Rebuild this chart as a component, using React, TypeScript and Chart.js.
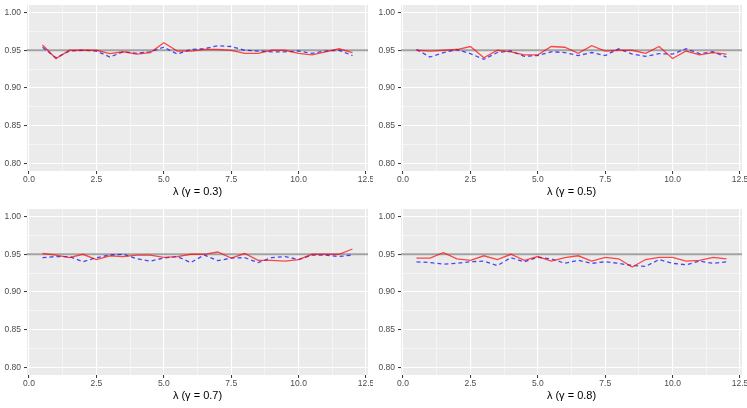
import { useEffect, useRef } from 'react';
import { Chart, registerables } from 'chart.js';

Chart.register(...registerables);

// lambda grid shared by all four panels
const LAMBDA = [0.5, 1, 1.5, 2, 2.5, 3, 3.5, 4, 4.5, 5, 5.5, 6, 6.5, 7, 7.5, 8, 8.5, 9, 9.5, 10, 10.5, 11, 11.5, 12];

const X_MAJOR = [0, 2.5, 5, 7.5, 10, 12.5];
const X_MINOR = [1.25, 3.75, 6.25, 8.75, 11.25];
const Y_MAJOR = [0.8, 0.85, 0.9, 0.95, 1.0];
const Y_MINOR = [0.825, 0.875, 0.925, 0.975];

const NOMINAL = 0.95;

const GAMMAS = ['0.3', '0.5', '0.7', '0.8'];

// red solid series per gamma
const RED_03 = [0.957, 0.939, 0.95, 0.95, 0.95, 0.9455, 0.948, 0.945, 0.947, 0.96, 0.949, 0.949, 0.951, 0.951, 0.95, 0.946, 0.946, 0.95, 0.95, 0.946, 0.944, 0.948, 0.952, 0.947];
const RED_05 = [0.95, 0.949, 0.95, 0.951, 0.955, 0.94, 0.95, 0.948, 0.944, 0.944, 0.955, 0.954, 0.946, 0.956, 0.949, 0.95, 0.95, 0.946, 0.955, 0.939, 0.949, 0.944, 0.947, 0.945];
const RED_07 = [0.951, 0.949, 0.9455, 0.95, 0.943, 0.948, 0.947, 0.949, 0.949, 0.946, 0.947, 0.95, 0.95, 0.953, 0.945, 0.951, 0.942, 0.942, 0.941, 0.943, 0.95, 0.95, 0.95, 0.957];
const RED_08 = [0.945, 0.945, 0.952, 0.944, 0.942, 0.948, 0.943, 0.95, 0.942, 0.947, 0.941, 0.9455, 0.948, 0.941, 0.946, 0.944, 0.933, 0.943, 0.946, 0.946, 0.941, 0.942, 0.946, 0.944];

// blue dashed series per gamma
const BLUE_03 = [0.954, 0.94, 0.949, 0.95, 0.949, 0.941, 0.948, 0.946, 0.948, 0.954, 0.945, 0.951, 0.952, 0.956, 0.955, 0.95, 0.949, 0.948, 0.948, 0.949, 0.946, 0.949, 0.95, 0.943];
const BLUE_05 = [0.951, 0.941, 0.947, 0.951, 0.9455, 0.938, 0.947, 0.949, 0.942, 0.943, 0.948, 0.947, 0.943, 0.947, 0.943, 0.952, 0.945, 0.942, 0.9455, 0.945, 0.952, 0.9455, 0.948, 0.941];
const BLUE_07 = [0.9455, 0.947, 0.947, 0.94, 0.9455, 0.949, 0.95, 0.944, 0.941, 0.945, 0.947, 0.939, 0.949, 0.9415, 0.945, 0.9455, 0.939, 0.9455, 0.947, 0.943, 0.949, 0.949, 0.947, 0.949];
const BLUE_08 = [0.94, 0.939, 0.937, 0.938, 0.94, 0.941, 0.935, 0.9455, 0.94, 0.946, 0.944, 0.938, 0.942, 0.938, 0.94, 0.938, 0.935, 0.934, 0.943, 0.938, 0.936, 0.941, 0.938, 0.94];

const RED = [RED_03, RED_05, RED_07, RED_08];
const BLUE = [BLUE_03, BLUE_05, BLUE_07, BLUE_08];

const CELL_W = 373;
const CELL_H = 204;
const FONT = '"Liberation Sans", Arial, sans-serif';

const isMajor = (list: number[], v: number) => list.some(m => Math.abs(m - v) < 1e-9);

const panelPlugin = {
  id: 'panelBg',
  beforeDraw(chart: any) {
    const { ctx, chartArea } = chart;
    ctx.save();
    ctx.fillStyle = '#EBEBEB';
    ctx.fillRect(chartArea.left, chartArea.top, chartArea.right - chartArea.left, chartArea.bottom - chartArea.top);
    ctx.restore();
  },
  beforeDatasetsDraw(chart: any) {
    const { ctx, chartArea, scales } = chart;
    const y = scales.y.getPixelForValue(NOMINAL);
    ctx.save();
    ctx.strokeStyle = '#A3A3A3';
    ctx.lineWidth = 2;
    ctx.beginPath();
    ctx.moveTo(chartArea.left, y);
    ctx.lineTo(chartArea.right, y);
    ctx.stroke();
    ctx.restore();
  },
};

function Panel({ idx }: { idx: number }) {
  const chartRef = useRef<HTMLCanvasElement>(null);

  useEffect(() => {
    if (!chartRef.current) return;
    const ctx = chartRef.current.getContext('2d');
    if (!ctx) return;

    const chart = new Chart(ctx, {
      type: 'line',
      data: {
        datasets: [
          {
            data: LAMBDA.map((x, i) => ({ x, y: RED[idx][i] })),
            borderColor: 'rgba(255,0,0,0.7)',
            borderWidth: 1.3,
            pointRadius: 0,
            tension: 0,
          },
          {
            data: LAMBDA.map((x, i) => ({ x, y: BLUE[idx][i] })),
            borderColor: 'rgba(0,0,255,0.7)',
            borderWidth: 1.3,
            borderDash: [4, 3],
            pointRadius: 0,
            tension: 0,
          },
        ],
      },
      options: {
        responsive: false,
        animation: false,
        devicePixelRatio: 1,
        layout: { padding: { top: 5, right: 5, bottom: 5, left: 0 } },
        plugins: { legend: { display: false }, tooltip: { enabled: false } },
        scales: {
          x: {
            type: 'linear',
            min: -0.075,
            max: 12.575,
            border: { display: false },
            afterBuildTicks: (scale: any) => {
              scale.ticks = [...X_MAJOR, ...X_MINOR].sort((a, b) => a - b).map(v => ({ value: v }));
            },
            afterFit: (scale: any) => {
              scale.height = 28;
              scale.paddingLeft = 0;
              scale.paddingRight = 0;
            },
            grid: {
              color: '#FFFFFF',
              lineWidth: (c: any) => (isMajor(X_MAJOR, c.tick?.value) ? 1.1 : 0.5),
              tickColor: (c: any) => (isMajor(X_MAJOR, c.tick?.value) ? '#333333' : 'rgba(0,0,0,0)'),
              tickWidth: 1,
              tickLength: 3,
            },
            ticks: {
              autoSkip: false,
              maxRotation: 0,
              padding: 1,
              color: '#4D4D4D',
              font: { family: FONT, size: 8.5 },
              callback: (v: any) => (isMajor(X_MAJOR, Number(v)) ? Number(v).toFixed(1) : ''),
            },
            title: {
              display: true,
              text: `λ (γ = ${GAMMAS[idx]})`,
              color: '#000000',
              font: { family: FONT, size: 11 },
              padding: 0,
            },
          },
          y: {
            type: 'linear',
            min: 0.79,
            max: 1.01,
            border: { display: false },
            afterBuildTicks: (scale: any) => {
              scale.ticks = [...Y_MAJOR, ...Y_MINOR].sort((a, b) => a - b).map(v => ({ value: v }));
            },
            afterFit: (scale: any) => {
              scale.width = 27;
              scale.paddingTop = 0;
              scale.paddingBottom = 0;
            },
            grid: {
              color: '#FFFFFF',
              lineWidth: (c: any) => (isMajor(Y_MAJOR, c.tick?.value) ? 1.1 : 0.5),
              tickColor: (c: any) => (isMajor(Y_MAJOR, c.tick?.value) ? '#333333' : 'rgba(0,0,0,0)'),
              tickWidth: 1,
              tickLength: 3,
            },
            ticks: {
              autoSkip: false,
              padding: 3,
              color: '#4D4D4D',
              font: { family: FONT, size: 8.5 },
              callback: (v: any) => (isMajor(Y_MAJOR, Number(v)) ? Number(v).toFixed(2) : ''),
            },
          },
        },
      },
      plugins: [panelPlugin],
    });

    return () => {
      chart.destroy();
    };
  }, [idx]);

  return <canvas ref={chartRef} width={CELL_W} height={CELL_H} style={{ display: 'block' }}></canvas>;
}

export default function App() {
  return (
    <div style={{ position: 'fixed', left: 0, top: 0, width: 747, height: 408, background: '#FFFFFF', overflow: 'hidden' }}>
      {GAMMAS.map((g, i) => (
        <div
          key={g}
          style={{
            position: 'absolute',
            left: i % 2 === 0 ? 0 : 374,
            top: i < 2 ? 0 : 204,
            width: CELL_W,
            height: CELL_H,
          }}
        >
          <Panel idx={i} />
        </div>
      ))}
    </div>
  );
}
